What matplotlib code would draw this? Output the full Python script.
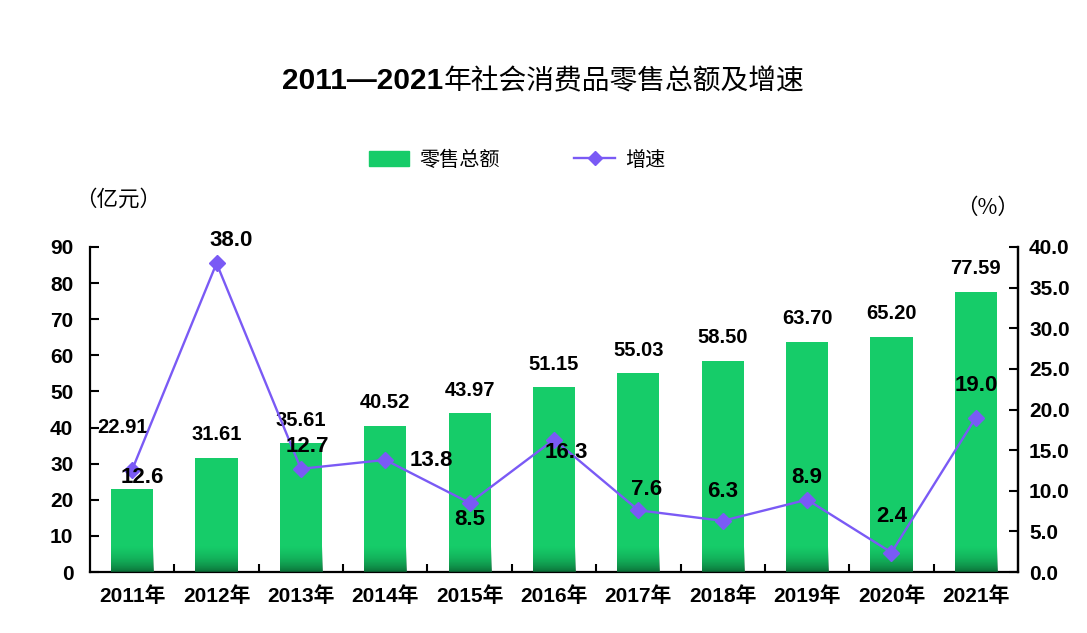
import numpy as np
import matplotlib.pyplot as plt
from matplotlib.colors import LinearSegmentedColormap
from matplotlib.lines import Line2D
from matplotlib.patches import Patch

years = ['2011年', '2012年', '2013年', '2014年', '2015年', '2016年',
         '2017年', '2018年', '2019年', '2020年', '2021年']
sales = [22.91, 31.61, 35.61, 40.52, 43.97, 51.15, 55.03, 58.50, 63.70, 65.20, 77.59]
growth = [12.6, 38.0, 12.7, 13.8, 8.5, 16.3, 7.6, 6.3, 8.9, 2.4, 19.0]

# label offsets in pixels (dx, dy up)
growth_offsets = [(10, -8), (15, 23), (6, 22), (46, -1), (0, -17), (12, -13),
                  (8, 21), (0, 29), (0, 22), (0, 36), (0, 32)]
sales_offsets = [(-10, 62)] + [(0, 23)] * 10

BAR = '#16CC69'
LINE = '#7A5AF5'
NUM = ['Liberation Sans', 'Noto Sans CJK SC']
CJK = ['Noto Sans CJK SC', 'DejaVu Sans']

fig = plt.figure(figsize=(10.87, 6.33), dpi=100)
ax = fig.add_axes([90 / 1087, 61 / 633, 928 / 1087, 325 / 633])
x = np.arange(len(years))
w = 0.5
ax.bar(x, sales, width=w, color=BAR, zorder=2)

# dark shading at the bottom of each bar
cmap = LinearSegmentedColormap.from_list('shade', [(0.04, 0.38, 0.19, 0.9), (0.06, 0.60, 0.30, 0.0)])
grad = np.linspace(0, 1, 64).reshape(-1, 1) ** 0.8
for xi in x:
    ax.imshow(grad, cmap=cmap, origin='lower', aspect='auto',
              extent=(xi - w / 2, xi + w / 2, 0, 7), zorder=3, interpolation='bilinear')

ax.set_xlim(-0.5, 10.5)
ax.set_ylim(0, 90)
ax.set_yticks(range(0, 91, 10))
ax.set_xticks(x)
ax.set_xticklabels(years)
ax.set_xticks(np.arange(0.5, 10, 1), minor=True)
ax.tick_params(axis='x', which='major', length=0, pad=10)
ax.tick_params(axis='x', which='minor', direction='in', length=6, width=1.5)
ax.tick_params(axis='y', direction='in', length=6.5, width=1.5, pad=12)
for lab in ax.get_xticklabels():
    lab.set_family(NUM)
    lab.set_fontweight('bold')
    lab.set_fontsize(15)
for lab in ax.get_yticklabels():
    lab.set_family('Liberation Sans')
    lab.set_fontweight('bold')
    lab.set_fontsize(15)
ax.spines['top'].set_visible(False)
for s in ['left', 'bottom', 'right']:
    ax.spines[s].set_linewidth(1.6)

px = 72 / 100
for xi, v, (dx, dy) in zip(x, sales, sales_offsets):
    ax.annotate(f'{v:.2f}', (xi, v), xytext=(dx * px, dy * px), textcoords='offset points',
                ha='center', va='center', fontsize=14.5, fontweight='bold',
                family='Liberation Sans', zorder=4)

ax2 = ax.twinx()
ax2.plot(x, growth, color=LINE, lw=1.7, marker='D', markersize=8.5, zorder=5)
ax2.set_ylim(0, 40)
ax2.set_yticks(np.arange(0, 41, 5))
ax2.set_yticklabels([f'{t:.1f}' for t in np.arange(0, 41, 5)])
ax2.tick_params(axis='y', direction='in', length=6.5, width=1.5, pad=8)
for lab in ax2.get_yticklabels():
    lab.set_family('Liberation Sans')
    lab.set_fontweight('bold')
    lab.set_fontsize(15)
for s in ax2.spines.values():
    s.set_visible(False)
ax2.spines['right'].set_visible(True)
ax2.spines['right'].set_linewidth(1.6)
for xi, v, (dx, dy) in zip(x, growth, growth_offsets):
    ax2.annotate(f'{v:.1f}', (xi, v), xytext=(dx * px, dy * px), textcoords='offset points',
                 ha='center', va='center', fontsize=16, fontweight='bold',
                 family='Liberation Sans', zorder=6)

# unit labels
fig.text(118 / 1087, 1 - 200 / 633, '（亿元）', family=CJK, fontsize=15.5, ha='center', va='center')
fig.text(988 / 1087, 1 - 208 / 633, '（%）', family=CJK, fontsize=15.5, ha='center', va='center')

# legend
handles = [Patch(color=BAR), Line2D([], [], color=LINE, lw=1.7, marker='D', markersize=7)]
fig.legend(handles, ['零售总额', '增速'], loc='center', bbox_to_anchor=(517 / 1087, 1 - 160 / 633),
           ncol=2, frameon=False, prop={'family': CJK, 'size': 14.5},
           handlelength=2.0, handleheight=0.7, handletextpad=0.5, columnspacing=3.7)

# title: bold digits, regular CJK
fig.canvas.draw()
r = fig.canvas.get_renderer()
t1 = fig.text(0, 1 - 89 / 633, '2011—2021', family='Liberation Sans', fontweight='bold',
              fontsize=21.5, ha='left', va='baseline')
t2 = fig.text(0, 1 - 89 / 633, '年社会消费品零售总额及增速', family=CJK, fontsize=20,
              ha='left', va='baseline')
w1 = t1.get_window_extent(r).width
w2 = t2.get_window_extent(r).width
start = (543 - (w1 + w2) / 2) / 1087
t1.set_x(start)
t2.set_x(start + w1 / 1087)

fig.savefig('out.png', dpi=100)
